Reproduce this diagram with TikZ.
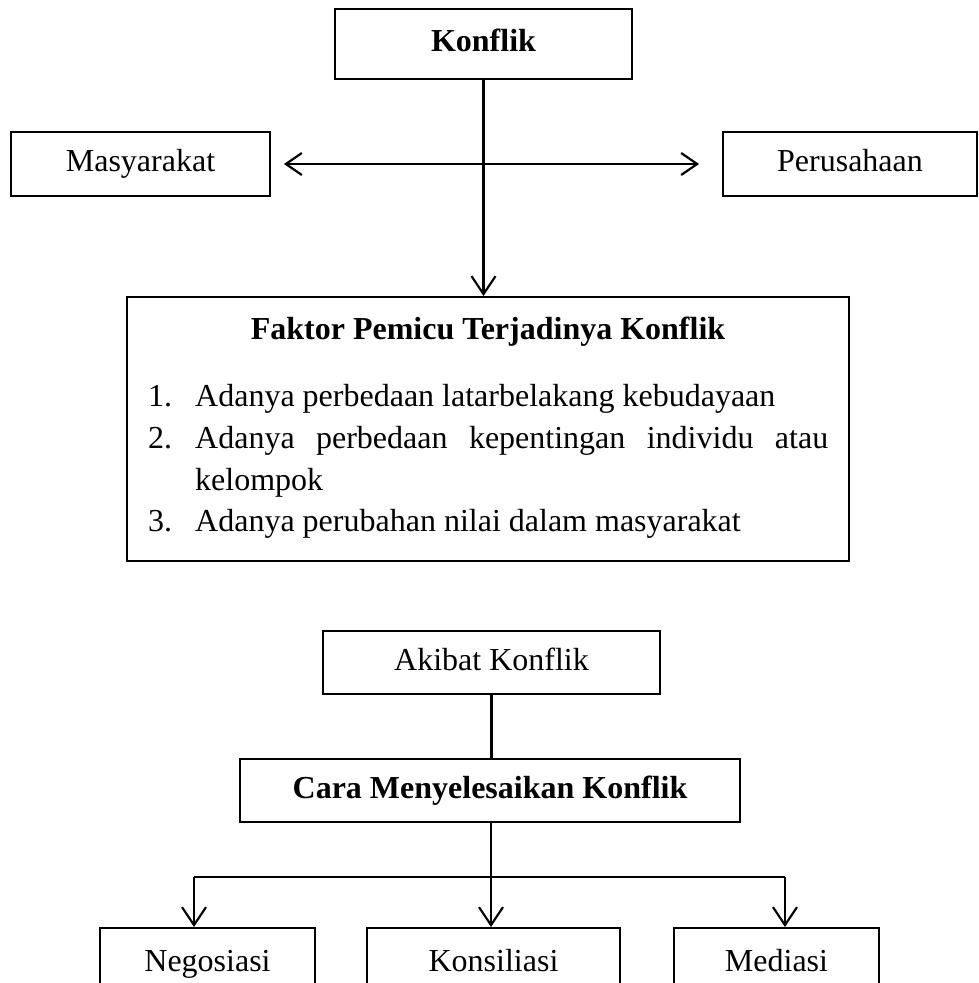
\documentclass[tikz,border=0pt]{standalone}
\usepackage{fontspec}
\setmainfont{Liberation Serif}
\usetikzlibrary{arrows.meta}
\newcommand\dgfont{\fontsize{32}{41}\selectfont}
\begin{document}
\begin{tikzpicture}[x=1pt,y=-1pt,
  box/.style={draw, line width=1.8pt, inner sep=0pt, text height=22pt, text depth=7pt, font=\dgfont},
  conn/.style={line width=2.2pt},
  tip/.style={},
  arr/.style={conn, -{Straight Barb[length=18pt,width=24pt]}},
  txt/.style={inner sep=0pt, font=\dgfont}]
\useasboundingbox (0,0) rectangle (979,983);
\clip (0,0) rectangle (979,983);
\node[box, minimum width=297pt, minimum height=70pt, font=\dgfont\bfseries] (konflik) at (483.5,44) {Konflik};
\node[box, minimum width=259pt, minimum height=64pt] (masy) at (140.5,164) {Masyarakat};
\node[box, minimum width=254pt, minimum height=64pt] (perus) at (850,164) {Perusahaan};
\node[box, minimum width=722pt, minimum height=264pt] (faktor) at (488,429) {};
\node[txt, anchor=base, font=\dgfont\bfseries] (ftitle) at (488,339) {Faktor Pemicu Terjadinya Konflik};
\node[txt, anchor=base west] (n1) at (148,406) {1.};
\node[txt, anchor=base west] (i1) at (195,406) {Adanya perbedaan latarbelakang kebudayaan};
\node[txt, anchor=base west] (n2) at (148,448) {2.};
\node[txt, anchor=base west] (i2) at (195,448) {\makebox[633pt][s]{Adanya perbedaan kepentingan individu atau}};
\node[txt, anchor=base west] (i2b) at (195,490) {kelompok};
\node[txt, anchor=base west] (n3) at (148,531) {3.};
\node[txt, anchor=base west] (i3) at (195,531) {Adanya perubahan nilai dalam masyarakat};
\node[box, minimum width=337pt, minimum height=63pt] (akibat) at (491.5,662.5) {Akibat Konflik};
\node[box, minimum width=500pt, minimum height=63pt, font=\dgfont\bfseries] (cara) at (490,790.5) {Cara Menyelesaikan Konflik};
\node[box, minimum width=215pt, minimum height=72pt] (nego) at (207.5,964) {Negosiasi};
\node[box, minimum width=253pt, minimum height=72pt] (kons) at (493.5,964) {Konsiliasi};
\node[box, minimum width=205pt, minimum height=72pt] (medi) at (776.5,964) {Mediasi};
\draw[arr] (konflik.south) -- (konflik.south |- faktor.north);
\draw[conn, {Straight Barb[length=16pt,width=22pt]}-{Straight Barb[length=16pt,width=22pt]}, shorten <=13pt, shorten >=23pt] (masy.east) -- (perus.west);
\draw[conn] (akibat.south) -- (akibat.south |- cara.north);
\coordinate (jn) at (491,877);
\coordinate (jl) at (194,877);
\coordinate (jr) at (785,877);
\draw[arr] (cara.south -| jn) -- (jn) -- (jn |- kons.north);
\draw[conn] (jl) -- (jr);
\draw[arr] (jl) -- (jl |- nego.north);
\draw[arr] (jr) -- (jr |- medi.north);
\end{tikzpicture}
\end{document}
